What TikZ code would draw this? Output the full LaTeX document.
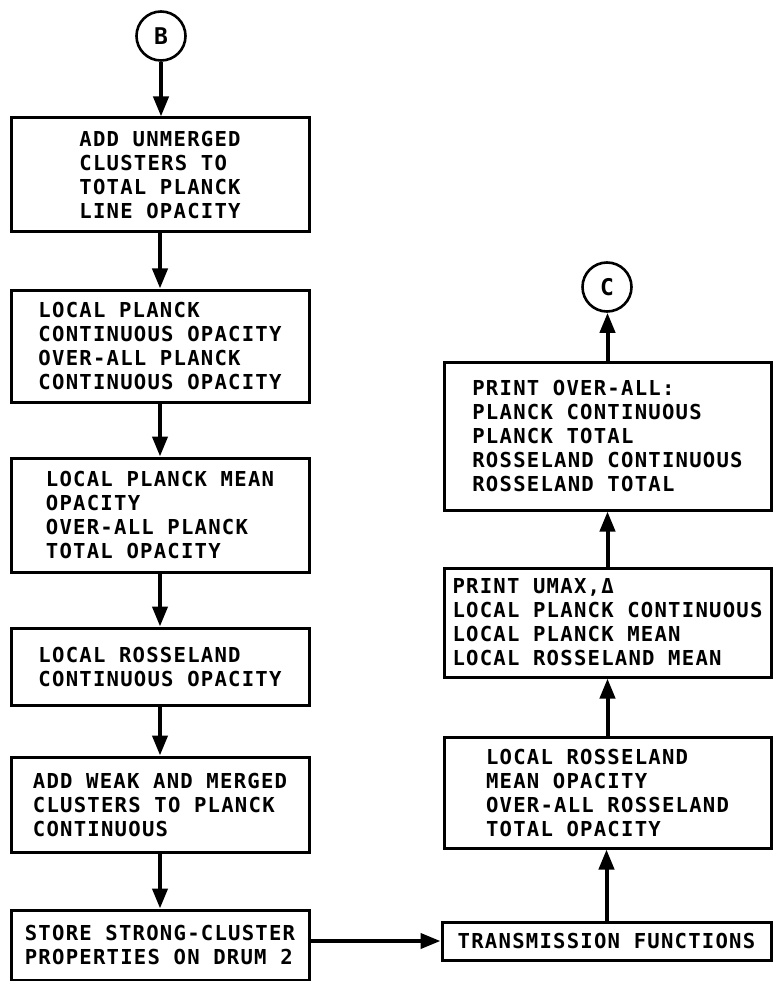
\documentclass[tikz,border=0pt]{standalone}
\usepackage{fontspec}
\newfontfamily\lett{DejaVu Sans Mono}[LetterSpace=6]
\usetikzlibrary{arrows.meta}
\begin{document}
\begin{tikzpicture}[x=1pt,y=-1pt,
  txt/.style={font=\lett\bfseries\fontsize{20.6}{24}\selectfont},
  box/.style={txt, draw, line width=3pt, rectangle, inner sep=0pt, align=left},
  conn/.style={circle, draw, line width=2.6pt, minimum size=49pt, inner sep=0pt,
    font=\lett\bfseries\fontsize{23}{24}\selectfont},
  flow/.style={line width=4pt, -{Triangle[length=20pt,width=15pt]}}]
\useasboundingbox (0,0) rectangle (773,981);
% connectors (circles)
\node[conn] (B) at (161,36) {B};
\node[conn] (C) at (607,287) {C};
% left column
\node[box, minimum width=298pt, minimum height=114pt] (b1) at (160,175)
  {ADD UNMERGED\\CLUSTERS TO\\TOTAL PLANCK\\LINE OPACITY};
\node[box, minimum width=298pt, minimum height=112pt] (b2) at (160,346)
  {LOCAL PLANCK\\CONTINUOUS OPACITY\\OVER-ALL PLANCK\\CONTINUOUS OPACITY};
\node[box, minimum width=298pt, minimum height=114pt] (b3) at (160,515)
  {LOCAL PLANCK MEAN\\OPACITY\\OVER-ALL PLANCK\\TOTAL OPACITY};
\node[box, minimum width=298pt, minimum height=77pt] (b4) at (160,666.5)
  {LOCAL ROSSELAND\\CONTINUOUS OPACITY};
\node[box, minimum width=298pt, minimum height=95pt] (b5) at (160,804.5)
  {ADD WEAK AND MERGED\\CLUSTERS TO PLANCK\\CONTINUOUS};
\node[box, minimum width=298pt, minimum height=70pt] (b6) at (160,945)
  {STORE STRONG-CLUSTER\\PROPERTIES ON DRUM 2};
% right column
\node[box, minimum width=327pt, minimum height=148pt] (r1) at (607.5,436)
  {PRINT OVER-ALL:\\PLANCK CONTINUOUS\\PLANCK TOTAL\\ROSSELAND CONTINUOUS\\ROSSELAND TOTAL};
\node[box, minimum width=327pt, minimum height=109pt] (r2) at (607.5,622.5)
  {PRINT UMAX,Δ\\LOCAL PLANCK CONTINUOUS\\LOCAL PLANCK MEAN\\LOCAL ROSSELAND MEAN};
\node[box, minimum width=327pt, minimum height=111pt] (r3) at (607.5,792.5)
  {LOCAL ROSSELAND\\MEAN OPACITY\\OVER-ALL ROSSELAND\\TOTAL OPACITY};
\node[box, minimum width=329pt, minimum height=38pt] (tf) at (606.5,941)
  {TRANSMISSION FUNCTIONS};
% arrows
\draw[flow] (B.south) -- (B.south |- b1.north);
\draw[flow] (b1.south) -- (b2.north);
\draw[flow] (b2.south) -- (b3.north);
\draw[flow] (b3.south) -- (b4.north);
\draw[flow] (b4.south) -- (b5.north);
\draw[flow] (b5.south) -- (b6.north);
\draw[flow] (b6.east |- tf.west) -- (tf.west);
\draw[flow] (tf.north) -- (tf.north |- r3.south);
\draw[flow] (r3.north) -- (r3.north |- r2.south);
\draw[flow] (r2.north) -- (r2.north |- r1.south);
\draw[flow] (r1.north) -- (r1.north |- C.south);
\end{tikzpicture}
\end{document}
